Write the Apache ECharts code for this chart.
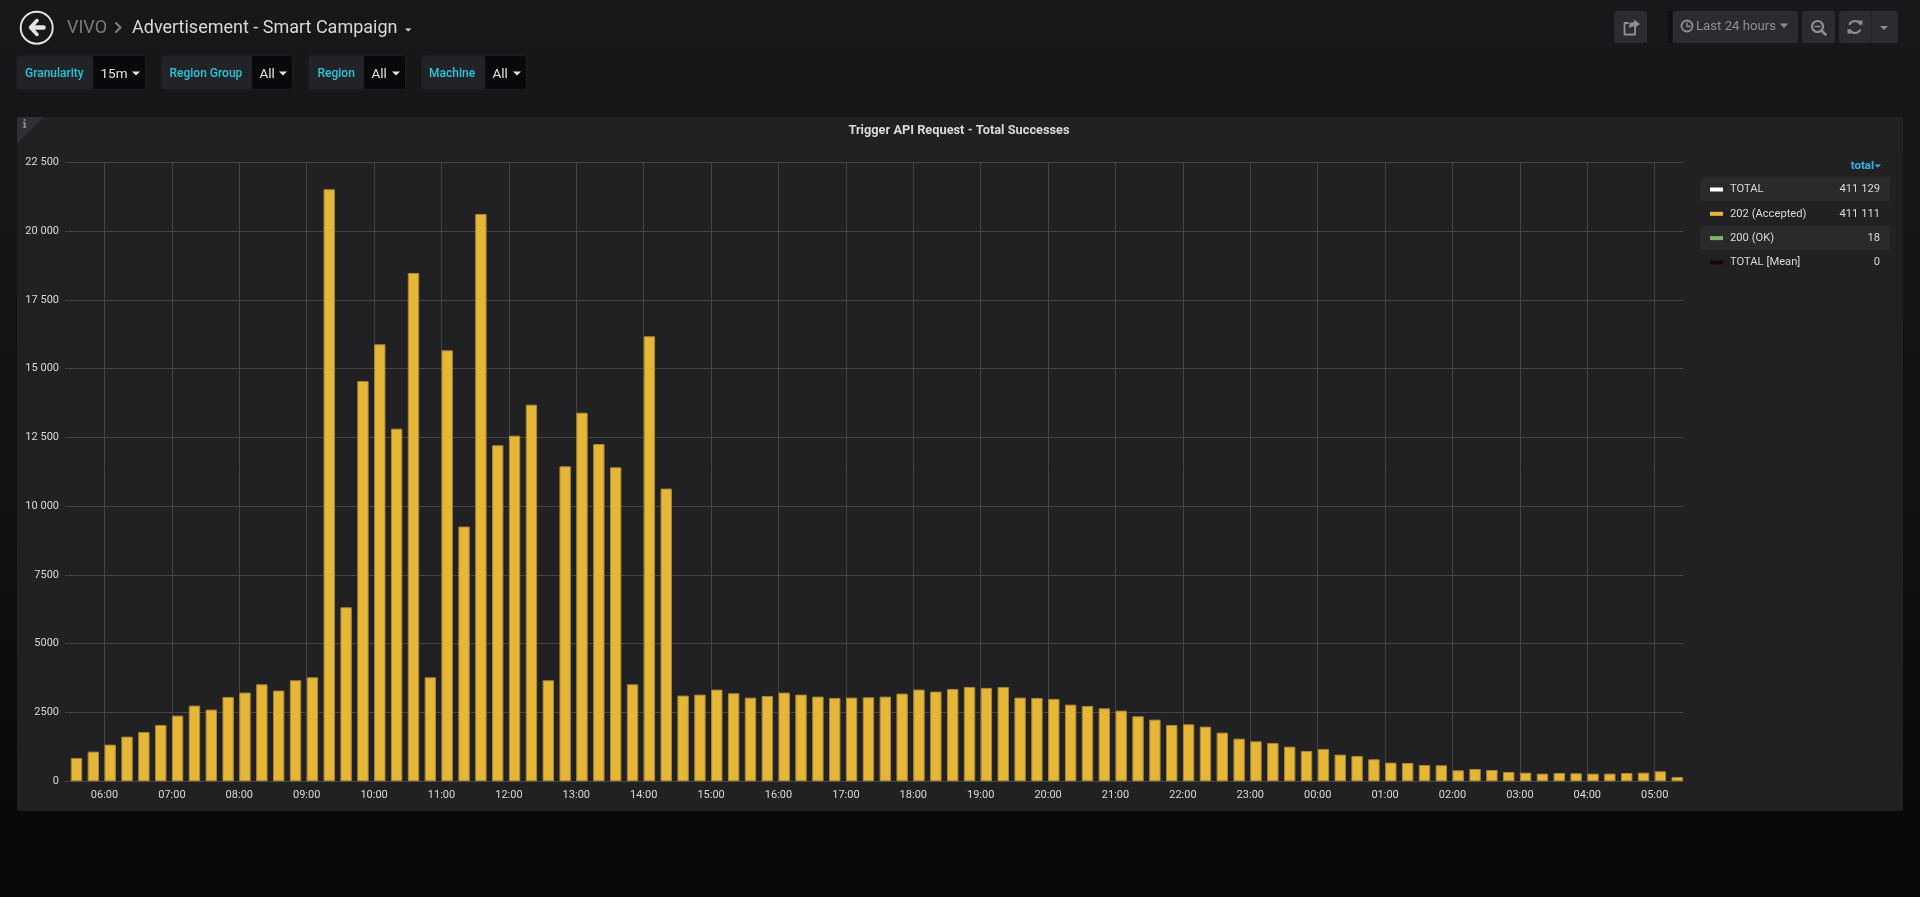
<!DOCTYPE html>
<html><head><meta charset="utf-8">
<style>html,body{margin:0;padding:0;background:#0b0c0e;overflow:hidden}#c{width:1920px;height:897px}</style>
<script src="https://cdn.jsdelivr.net/npm/echarts@6/dist/echarts.min.js"></script>
</head><body><div id="c"></div>
<script>
const accepted = [848,1079,1333,1624,1794,2048,2388,2751,2606,3066,3224,3527,3297,3672,3781,21519,6327,14551,15885,12818,18477,3781,15667,9262,20622,12213,12564,13691,3672,11450,13400,12261,11414,3527,16176,10640,
3115,3151,3333,3200,3042,3103,3224,3151,3078,3030,3042,3054,3078,3188,3333,3260,3357,3430,3394,3430,3042,3030,2994,2788,2739,2654,2569,2363,2242,2048,2073,1988,1770,1551,1454,1394,
1260,1103,1176,970,921,800,679,667,594,582,400,448,412,339,315,279,303,291,279,279,303,315,364,158];
const legendNames = ['TOTAL','202 (Accepted)','200 (OK)','TOTAL [Mean]'];
const legendTotals = ['411 129','411 111','18','0'];
const legendColors = ['#ffffff','#EAB839','#7EB26D','#1a0505'];
const yTicks = {0:'0',2500:'2500',5000:'5000',7500:'7500',10000:'10 000',12500:'12 500',15000:'15 000',17500:'17 500',20000:'20 000',22500:'22 500'};
const panelTitle = 'Trigger API Request - Total Successes';
const variables = [['Granularity','15m',16,92.5,146,25],['Region Group','All',161,251.5,293,169.5],['Region','All',308,363.5,406,317.5],['Machine','All',421,484.5,527,429]];

const MIN = 60000, base = new Date(2021,0,1,6,0,0).getTime();
const firstBucket = base - 30*MIN, barMin = 10.15;
const points = accepted.map((v,i)=>[firstBucket + i*15*MIN + barMin/2*MIN, v]);

const T='Roboto, sans-serif', G=[];
const rect=(x,y,w,h,fill,r,z,stroke)=>G.push({type:'rect',silent:true,z:z||-5,shape:{x,y,width:w,height:h,r:r||0},style:{fill,stroke:stroke||null,lineWidth:stroke?1:0}});
const text=(t,x,y,font,fill,align)=>G.push({type:'text',silent:true,z:5,x,y,style:{text:t,font,fill,align:align||'left',verticalAlign:'middle'}});
const poly=(pts,fill)=>G.push({type:'polygon',silent:true,z:5,shape:{points:pts},style:{fill}});
const line=(pts,stroke,w)=>G.push({type:'polyline',silent:true,z:5,shape:{points:pts},style:{stroke,lineWidth:w,fill:null,lineCap:'round',lineJoin:'round'}});
const circ=(cx,cy,r,stroke,w)=>G.push({type:'circle',silent:true,z:5,shape:{cx,cy,r},style:{stroke,lineWidth:w,fill:null}});

// panel
rect(17,117,1886,694,'#212124',2,-10);
poly([[17,117],[44,117],[17,144]],'#2f3033');
text('i',24.5,125,'bold 11px "DejaVu Serif", serif','#8e8e8e','center');
text(panelTitle,959,131,'bold 12.8px '+T,'#d8d9da','center');

// header
circ(36.7,27.7,16,'#e3e3e3',2);
line([[37,20.5],[30.5,27.5],[37,34.5]],'#e3e3e3',3.5);
line([[32,27.5],[43.5,27.5]],'#e3e3e3',4.5);
text('VIVO',67,28,'18px '+T,'#7b7b7e');
line([[116,23],[120.5,27.5],[116,32]],'#7b7b7e',2.2);
text('Advertisement - Smart Campaign',132,28,'18px '+T,'#d8d9da');
poly([[405,28.5],[411.5,28.5],[408.2,31.5]],'#d8d9da');

// variables
variables.forEach(([l,v,x0,x1,x2,tx])=>{
  rect(x0+.5,55.5,x2-x0-1,34,'#09090b',3,-5,'#1c1d20');
  rect(x0+.5,55.5,x1-x0,34,'#212327',3,-4,'#1c1d20');
  text(l,tx,74,'500 12px '+T,'#26c6da');
  text(v,x1+8,74.5,'13.5px '+T,'#e4e4e4');
  const cx=x2-10;
  poly([[cx-4,71.5],[cx+4,71.5],[cx,75.5]],'#e4e4e4');
});

// toolbar
const tb='#2b2c2f', ic='#8e8e8e';
rect(1614,11,33,32,tb,2);
line([[1635,26],[1635,34.5],[1624.5,34.5],[1624.5,23],[1628,23]],ic,1.8);
poly([[1634,19.5],[1640,24],[1634,28.5],[1634,26],[1629,28],[1629.5,23],[1634,22]],ic);
rect(1668,11,4,32,'#0e0f11',0);
rect(1673,11,125,32,tb,2);
circ(1687,26,5.5,ic,1.8);
line([[1687,23],[1687,26.5],[1690,26.5]],ic,1.4);
text('Last 24 hours',1696,27,'13.2px '+T,ic);
poly([[1780,23.5],[1788,23.5],[1784,28]],ic);
rect(1802,11,33,32,tb,2);
circ(1817.5,26.5,5.5,ic,2.2);
line([[1815,26.5],[1820,26.5]],ic,1.6);
line([[1822,31],[1825.5,34.5]],ic,2.6);
rect(1839,11,59,32,tb,2);
rect(1871,11,1,32,'#232427',0);
G.push({type:'arc',silent:true,z:5,shape:{cx:1855,cy:27,r:6,startAngle:3.5,endAngle:5.9},style:{stroke:ic,lineWidth:2.2,fill:null}});
G.push({type:'arc',silent:true,z:5,shape:{cx:1855,cy:27,r:6,startAngle:0.4,endAngle:2.8},style:{stroke:ic,lineWidth:2.2,fill:null}});
poly([[1858,20.5],[1862.5,20.5],[1862.5,25.5]],ic);
poly([[1852,33.5],[1847.5,33.5],[1847.5,28.5]],ic);
poly([[1880,26],[1888,26],[1884,30]],ic);

// legend rows
rect(1701,177,189,24,'#2a2a2d',0,-5);
rect(1701,226,189,24,'#2a2a2d',0,-5);
text('total',1874,166.5,'bold 11.5px '+T,'#33b5e5','right');
poly([[1874.5,164.5],[1881,164.5],[1877.7,167.5]],'#33b5e5');

const series = [{
  name:legendNames[0],type:'bar',stack:'s',barWidth:11.4,data:[],itemStyle:{color:legendColors[0]}
},{
  name:legendNames[1],type:'bar',stack:'s',barWidth:11.4,data:points,
  itemStyle:{color:'#E6B737',borderColor:'#a5853a',borderWidth:1},emphasis:{disabled:true},z:3
},{
  name:legendNames[2],type:'bar',stack:'s',barWidth:11.4,data:[],itemStyle:{color:legendColors[2]}
},{
  name:legendNames[3],type:'bar',stack:'s',barWidth:11.4,data:[],itemStyle:{color:legendColors[3]}
}];

const gridC='#454547';
const chart = echarts.init(document.getElementById('c'),null,{renderer:'canvas'});
chart.setOption({
  animation:false,
  backgroundColor:{type:'linear',x:0,y:0,x2:0,y2:1,colorStops:[{offset:0,color:'#17181a'},{offset:.55,color:'#111214'},{offset:.9,color:'#09090b'},{offset:1,color:'#08090b'}]},
  graphic:{elements:G},
  legend:{orient:'vertical',left:1710,top:182.5,padding:0,itemWidth:13,itemHeight:4,itemGap:10.3,icon:'rect',selectedMode:false,
    data:legendNames.map((n,i)=>({name:n,itemStyle:{color:legendColors[i],borderWidth:0}})),
    formatter:n=>`{n|${n}}{v|${legendTotals[legendNames.indexOf(n)]}}`,
    textStyle:{rich:{n:{width:105,height:14,padding:[0,0,0,2],color:'#d8d9da',fontFamily:T,fontSize:11.2,lineHeight:14},v:{width:45,height:14,align:'right',color:'#d8d9da',fontFamily:T,fontSize:11.2,lineHeight:14}}}},
  grid:{left:65,top:162.3,width:1618,height:619,containLabel:false},
  // the library widens a time axis by half a bar on each side, so the range is given net of that
  xAxis:{type:'time',min:base+(-35.16+barMin/2)*MIN,max:base+(1405.2-barMin/2)*MIN,minInterval:60*MIN,maxInterval:60*MIN,
    axisLine:{show:true,lineStyle:{color:gridC}},axisTick:{show:false},
    axisLabel:{color:'#d8d9da',fontFamily:T,fontSize:11,margin:8,showMinLabel:false,showMaxLabel:false,hideOverlap:false,
      formatter:v=>{const d=new Date(v);return d.getMinutes()?'':String(d.getHours()).padStart(2,'0')+':00';}},
    splitLine:{show:true,showMinLine:false,showMaxLine:false,lineStyle:{color:gridC,width:1}}},
  yAxis:{type:'value',min:0,max:22500,interval:2500,
    axisLine:{show:false},axisTick:{show:false},
    axisLabel:{color:'#d8d9da',fontFamily:T,fontSize:11,margin:6,formatter:v=>yTicks[v]},
    splitLine:{show:true,lineStyle:{color:gridC,width:1}}},
  series
});
</script></body></html>
